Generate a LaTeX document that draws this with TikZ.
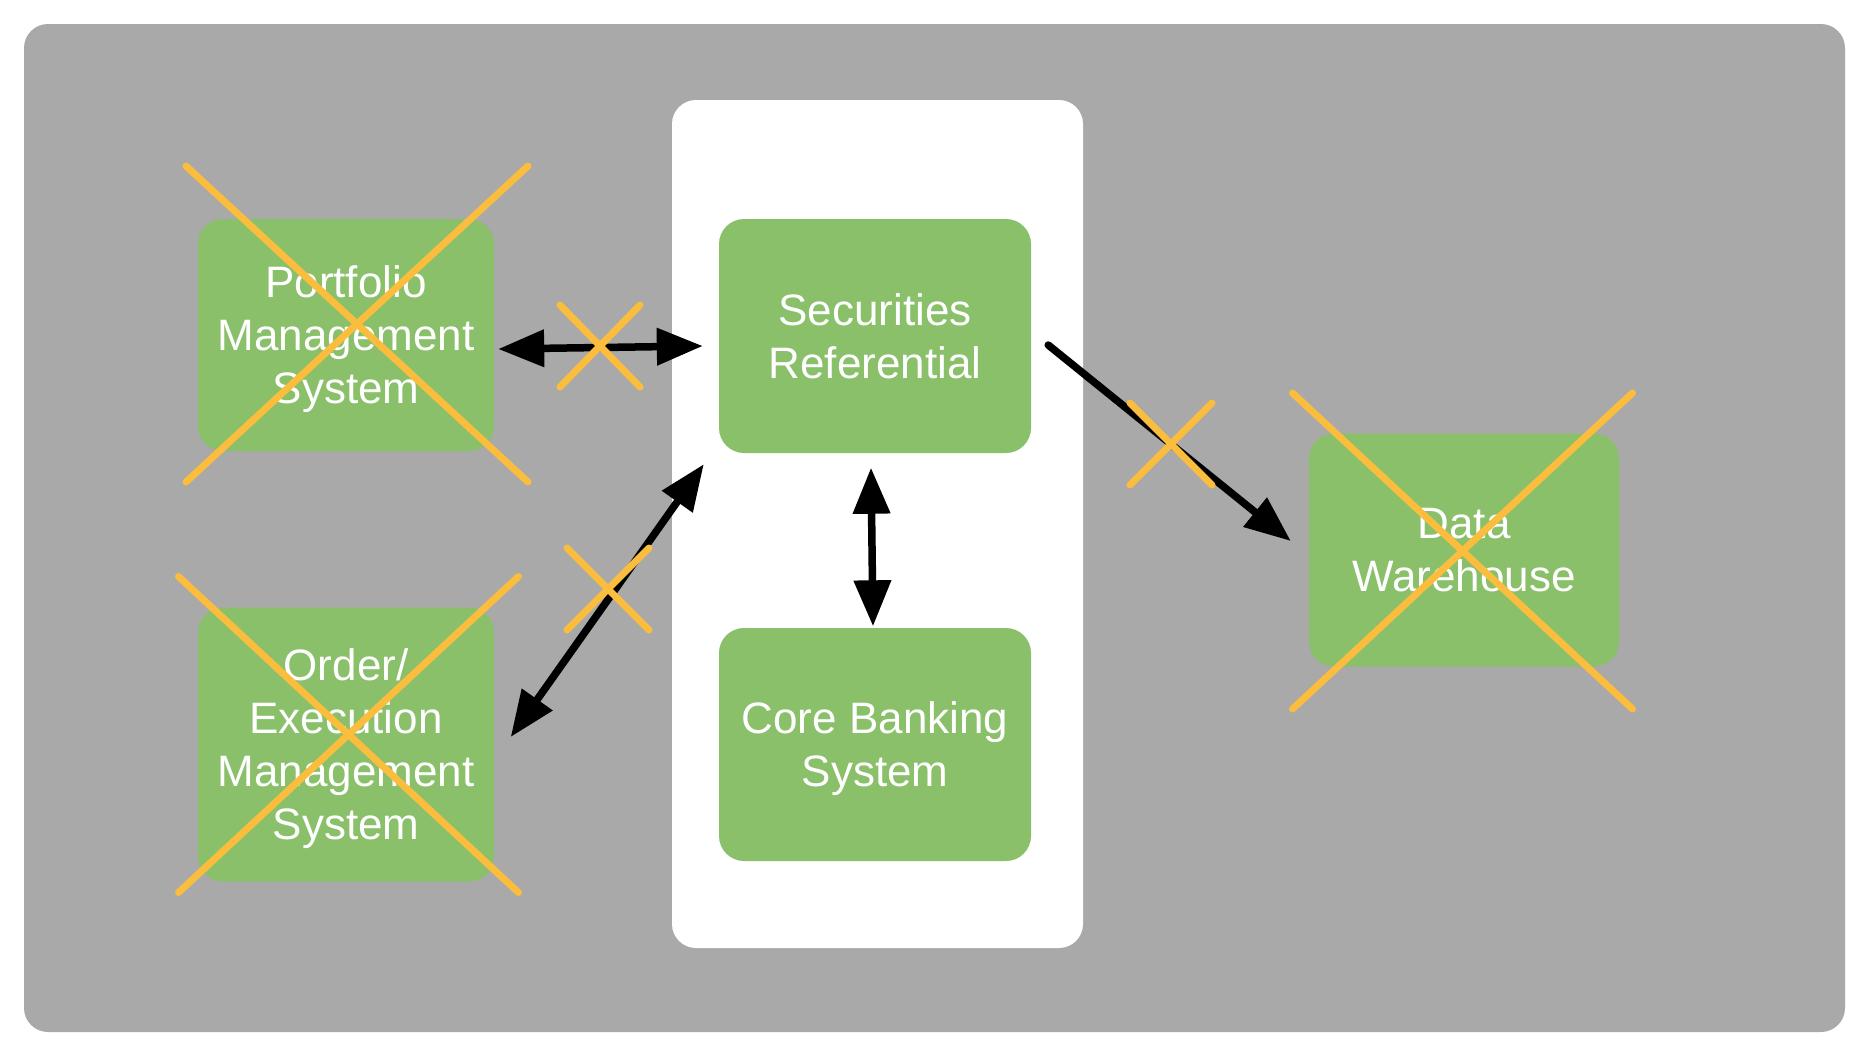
\documentclass[tikz,border=0pt]{standalone}
\usepackage{fontspec}
\setmainfont{Liberation Sans}
\usetikzlibrary{arrows.meta,calc}
\definecolor{bggray}{HTML}{A9A9A9}
\definecolor{boxgreen}{HTML}{8AC06A}
\definecolor{xorange}{HTML}{FBBD3D}
\newcommand\drawcross[4]{%
  \draw[xline] (#1-#3,#2-#4) -- (#1+#3,#2+#4);
  \draw[xline] (#1+#3,#2-#4) -- (#1-#3,#2+#4);}
\begin{document}
\begin{tikzpicture}[x=1pt,y=-1pt,
  sys/.style={fill=boxgreen, rounded corners=25pt, text=white, align=center,
    inner sep=0pt, text depth=0pt, font=\fontsize{44}{53}\selectfont},
  link/.style={line width=7.5pt, line cap=round, draw=black},
  tipend/.tip={Triangle[length=46pt,width=36pt]},
  xline/.style={draw=xorange, line width=7pt, line cap=round}]
\useasboundingbox (0,0) rectangle (1869,1058);
\fill[bggray, rounded corners=24pt] (24,24) rectangle (1845,1032);
\fill[white, rounded corners=24pt] (672,100) rectangle (1083,948);

\node[sys, minimum width=296pt, minimum height=232pt] (pms) at (346,335) {Portfolio\\Management\\System};
\node[sys, minimum width=296pt, minimum height=274pt] (oems) at (346,744.5) {Order/\\Execution\\Management\\System};
\node[sys, minimum width=312pt, minimum height=234pt] (sec) at (875,336) {Securities\\Referential};
\node[sys, minimum width=312pt, minimum height=233pt] (cbs) at (875,744.5) {Core Banking\\System};
\node[sys, minimum width=310pt, minimum height=233pt] (dw) at (1464,550) {Data\\Warehouse};

\draw[link, tipend-tipend] ($(pms.east)+(4,14)$) -- ($(sec.west)+(-16,10)$);
\draw[link, tipend-tipend] ($(oems.east)+(16.5,-7.5)$) -- ($(sec.south west)+(-15,11)$);
\draw[link, tipend-tipend] ($(sec.south)+(-4,14.5)$) -- ($(cbs.north)+(-2,-1.5)$);
\draw[link, -tipend] ($(sec.east)+(17,9)$) -- ($(dw.west)+(-18,-9)$);

\drawcross{357}{324}{171}{158}
\drawcross{348.5}{734.5}{170}{158}
\drawcross{1462.5}{551}{170}{158}
\drawcross{600}{346}{40}{41}
\drawcross{608}{589}{41}{41}
\drawcross{1171}{444}{41}{41}
\end{tikzpicture}
\end{document}
